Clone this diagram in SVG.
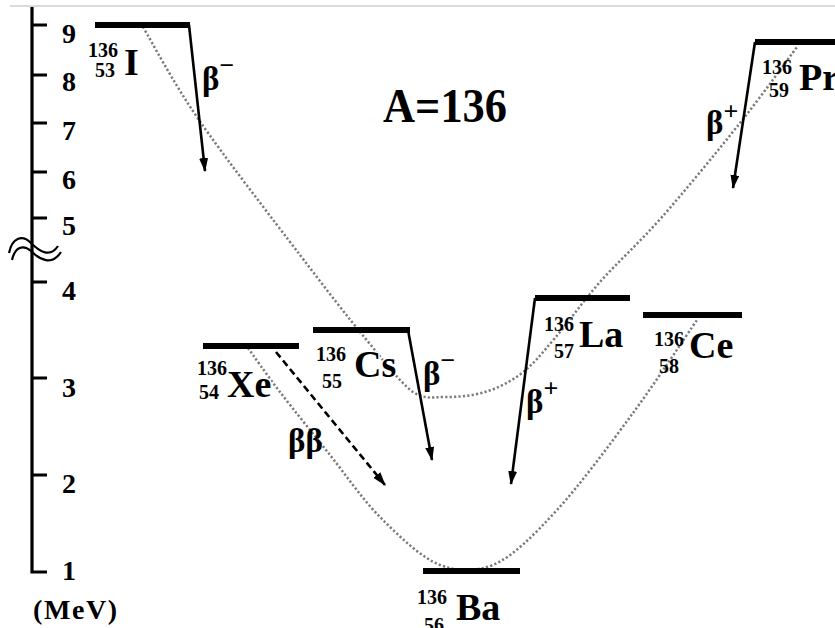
<svg xmlns="http://www.w3.org/2000/svg" width="835" height="628" viewBox="0 0 835 628">
<defs>
<style>
text{font-family:"Liberation Serif","Times New Roman",serif;font-weight:bold;fill:#000}
.ax{font-size:28px}
.sup{font-size:20px}
.sym{font-size:38px;paint-order:stroke;stroke:#fff;stroke-width:3px}
.beta{font-size:33px}
.lvl{stroke:#000;stroke-width:6;fill:none}
.arr{stroke:#000;stroke-width:2.6;fill:none;marker-end:url(#ah)}
.dash{stroke-dasharray:7 4}
.dot{stroke:#7a7a7a;stroke-width:2.5;fill:none;stroke-dasharray:2.2 2.2}
.tick{stroke:#000;stroke-width:3.2;fill:none}
</style>
<marker id="ah" markerUnits="userSpaceOnUse" markerWidth="14" markerHeight="9" refX="13" refY="4.5" orient="auto">
<path d="M0,0 L14,4.5 L0,9 z" fill="#000"/>
</marker>
</defs>
<rect width="835" height="628" fill="#fff"/>
<line x1="10" y1="6" x2="835" y2="6" stroke="#cfcfcf" stroke-width="1.5"/>

<g id="axis">
<path class="tick" d="M32,7 L32,572 L47,572"/>
<path class="tick" d="M32,25 H47 M32,75 H47 M32,123 H47 M32,172 H47 M32,218 H47 M32,282 H47 M32,378 H47 M32,475 H47"/>
<path d="M9,253 C12,238 22,234 31,243 C40,252 50,258 58,246" stroke="#000" stroke-width="2.2" fill="none"/>
<path d="M12,260 C15,247 23,244 31,251 C40,260 52,266 61,252" stroke="#000" stroke-width="2.2" fill="none"/>
<text class="ax" x="62" y="43">9</text>
<text class="ax" x="62" y="91">8</text>
<text class="ax" x="62" y="140">7</text>
<text class="ax" x="62" y="189">6</text>
<text class="ax" x="62" y="235">5</text>
<text class="ax" x="62" y="300">4</text>
<text class="ax" x="62" y="397">3</text>
<text class="ax" x="62" y="493">2</text>
<text class="ax" x="62" y="580">1</text>
<text x="33" y="619" font-size="28" textLength="84">(MeV)</text>
</g>

<text id="title" x="383" y="122" font-size="48" textLength="124" lengthAdjust="spacingAndGlyphs">A=136</text>

<g id="connectors">
<path class="dot" d="M143,27 C152.3,42.5 172.8,82 199,120 C225.2,158 272.3,218.7 300,255 C327.7,291.3 346.2,315.2 365,338 C383.8,360.8 399.7,382.2 413,392 C426.3,400 433,397 445,397 C457,397 472.2,396 485,392 C497.8,388 510.3,382 522,373 C533.7,364 542,353.2 555,338 C568,322.8 582.2,302.2 600,282 C617.8,261.8 638.7,243.5 662,217 C685.3,190.5 717.5,151.3 740,123 C762.5,94.7 787.5,59.7 797,47"/>
<path class="dot" d="M248,348 C253.3,355.3 266.3,374.2 280,392 C293.7,409.8 313.3,434.2 330,455 C346.7,475.8 361.7,498.5 380,517 C398.3,535.5 421.2,557.8 440,565 C458.8,572 473.5,572 493,565 C512.5,556.7 533.7,535.5 557,510 C580.3,484.5 609.7,444.7 633,413 C656.3,381.3 686.3,335.5 697,320"/>
<path class="arr" d="M189,25 L205,171"/>
<path class="arr" d="M408,330 L432,460"/>
<path class="arr" d="M535,298 L511,484"/>
<path class="arr" d="M755,42 L733,188"/>
<path class="arr dash" d="M276,352 L385,485"/>
<text class="beta" x="202" y="90">β<tspan font-size="26" dy="-16">−</tspan></text>
<text class="beta" x="423" y="385">β<tspan font-size="26" dy="-16">−</tspan></text>
<text class="beta" x="526" y="413">β<tspan font-size="26" dy="-16">+</tspan></text>
<text class="beta" x="706" y="134">β<tspan font-size="26" dy="-14">+</tspan></text>
<text class="beta" x="288" y="452">ββ</text>
</g>

<g id="I136">
<line class="lvl" x1="95" y1="25" x2="190" y2="25"/>
<text class="sup" x="88" y="57">136</text>
<text class="sup" x="95" y="77">53</text>
<text class="sym" x="124" y="75" font-size="40">I</text>
</g>
<g id="Xe136">
<line class="lvl" x1="203" y1="346" x2="299" y2="346"/>
<text class="sup" x="197" y="375">136</text>
<text class="sup" x="199" y="399">54</text>
<text class="sym" x="227" y="397" font-size="40">Xe</text>
</g>
<g id="Cs136">
<line class="lvl" x1="313" y1="330" x2="410" y2="330"/>
<text class="sup" x="316" y="361">136</text>
<text class="sup" x="322" y="388">55</text>
<text class="sym" x="354" y="377">Cs</text>
</g>
<g id="Ba136">
<line class="lvl" x1="423" y1="571" x2="520" y2="571"/>
<text class="sup" x="417" y="604">136</text>
<text class="sup" x="424" y="632">56</text>
<text class="sym" x="456" y="620">Ba</text>
</g>
<g id="La136">
<line class="lvl" x1="535" y1="298" x2="630" y2="298"/>
<text class="sup" x="544" y="331">136</text>
<text class="sup" x="554" y="358">57</text>
<text class="sym" x="579" y="347">La</text>
</g>
<g id="Ce136">
<line class="lvl" x1="643" y1="315" x2="742" y2="315"/>
<text class="sup" x="654" y="346">136</text>
<text class="sup" x="659" y="373">58</text>
<text class="sym" x="689" y="358">Ce</text>
</g>
<g id="Pr136">
<line class="lvl" x1="755" y1="42" x2="835" y2="42"/>
<text class="sup" x="762" y="74">136</text>
<text class="sup" x="769" y="97">59</text>
<text class="sym" x="799" y="90">Pr</text>
</g>
</svg>
